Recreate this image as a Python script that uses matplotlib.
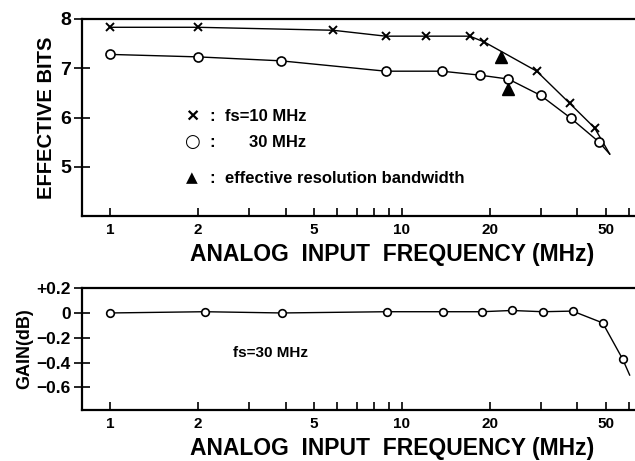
import numpy as np
import matplotlib
matplotlib.use('Agg')
import matplotlib.pyplot as plt
from matplotlib.ticker import FixedLocator, FixedFormatter, NullLocator

plt.rcParams['font.family'] = ['Liberation Sans', 'DejaVu Sans']
plt.rcParams['font.weight'] = 'bold'

# --- top panel: effective bits ---
f10_x = [1.0, 2.0, 5.8, 8.8, 12.1, 17.1, 19.2, 29.0, 37.6, 45.8]
f10_y = [7.83, 7.83, 7.77, 7.65, 7.65, 7.65, 7.53, 6.94, 6.29, 5.79]
f30_x = [1.0, 2.0, 3.85, 8.8, 13.7, 18.5, 23.2, 29.9, 37.9, 47.3]
f30_y = [7.28, 7.23, 7.15, 6.94, 6.94, 6.86, 6.78, 6.45, 5.99, 5.51]
tail_x = [51.6]
tail_y = [5.26]
erbw_x = [21.8, 23.1]
erbw_y = [7.22, 6.58]

# --- bottom panel: gain ---
gain_x = [1.0, 2.11, 3.88, 8.88, 13.8, 18.8, 23.8, 30.4, 38.5, 48.8, 57.1]
gain_y = [0.0, 0.01, 0.0, 0.01, 0.01, 0.01, 0.02, 0.01, 0.015, -0.08, -0.37]
gain_tail_x = [60.4]
gain_tail_y = [-0.5]

xticks_all = [1, 2, 3, 4, 5, 6, 7, 8, 9, 10, 20, 30, 40, 50, 60]
xtick_labels = ['1', '2', '', '', '5', '', '', '', '', '10', '20', '', '', '50', '']
xlabel = 'ANALOG  INPUT  FREQUENCY (MHz)'

fig = plt.figure(figsize=(6.35, 4.61), dpi=100)
ax1 = fig.add_axes([0.129, 0.531, 0.871, 0.428])
ax2 = fig.add_axes([0.129, 0.111, 0.871, 0.264])


def style_axis(ax):
    ax.set_xscale('log')
    ax.set_xlim(0.8, 63)
    ax.xaxis.set_major_locator(FixedLocator(xticks_all))
    ax.xaxis.set_major_formatter(FixedFormatter(xtick_labels))
    ax.xaxis.set_minor_locator(NullLocator())
    ax.spines['right'].set_visible(False)
    for s in ['left', 'bottom', 'top']:
        ax.spines[s].set_linewidth(1.6)
    ax.tick_params(axis='x', direction='in', length=6, width=1.2,
                   labelsize=11, pad=5)
    ax.tick_params(axis='y', direction='inout', length=12, width=1.2,
                   labelsize=13, pad=2)


style_axis(ax1)
ax1.plot(f10_x + tail_x, f10_y + tail_y, color='k', lw=1.0)
ax1.plot(f10_x, f10_y, ls='none', marker='x', ms=6, mew=1.4, color='k')
ax1.plot(f30_x + tail_x, f30_y + tail_y, color='k', lw=1.0)
ax1.plot(f30_x, f30_y, ls='none', marker='o', ms=6.5, mew=1.2,
         mfc='white', mec='k')
ax1.plot(erbw_x, erbw_y, ls='none', marker='^', ms=8, color='k')
ax1.set_ylim(4, 8)
ax1.set_yticks([5, 6, 7, 8])
ax1.tick_params(axis='y', labelsize=14)
ax1.set_ylabel('EFFECTIVE BITS', fontsize=14.5, fontweight='bold', labelpad=3)
ax1.set_xlabel(xlabel, fontsize=16.5, fontweight='bold')
ax1.xaxis.set_label_coords(0.56, -0.135)

kw = dict(transform=ax1.transAxes, fontweight='bold', va='center')
ax1.text(0.199, 0.503, '×', ha='center', fontsize=15, **kw)
ax1.text(0.235, 0.503, ':', ha='center', fontsize=12, **kw)
ax1.text(0.259, 0.503, 'fs=10 MHz', fontsize=12, **kw)
ax1.text(0.199, 0.376, '○', ha='center', fontsize=13, family='DejaVu Sans',
         **kw)
ax1.text(0.235, 0.376, ':', ha='center', fontsize=12, **kw)
ax1.text(0.302, 0.376, '30 MHz', fontsize=12, **kw)
ax1.text(0.199, 0.193, '▲', ha='center', fontsize=11, family='DejaVu Sans',
         **kw)
ax1.text(0.235, 0.193, ':', ha='center', fontsize=12, **kw)
ax1.text(0.259, 0.193, 'effective resolution bandwidth', fontsize=12, **kw)

style_axis(ax2)
ax2.plot(gain_x + gain_tail_x, gain_y + gain_tail_y, color='k', lw=1.0)
ax2.plot(gain_x, gain_y, ls='none', marker='o', ms=5.5, mew=1.2,
         mfc='white', mec='k')
ax2.set_ylim(-0.78, 0.2)
ax2.set_yticks([0.2, 0.0, -0.2, -0.4, -0.6])
ax2.set_yticklabels(['+0.2', '0', '\u22120.2', '\u22120.4', '\u22120.6'])
ax2.tick_params(axis='y', labelsize=12.5)
ax2.set_ylabel('GAIN(dB)', fontsize=13, fontweight='bold', labelpad=2)
ax2.set_xlabel(xlabel, fontsize=16.5, fontweight='bold')
ax2.xaxis.set_label_coords(0.56, -0.225)
ax2.text(0.273, 0.467, 'fs=30 MHz', transform=ax2.transAxes, fontsize=11,
         fontweight='bold', va='center')

fig.savefig('out.png', dpi=100)
